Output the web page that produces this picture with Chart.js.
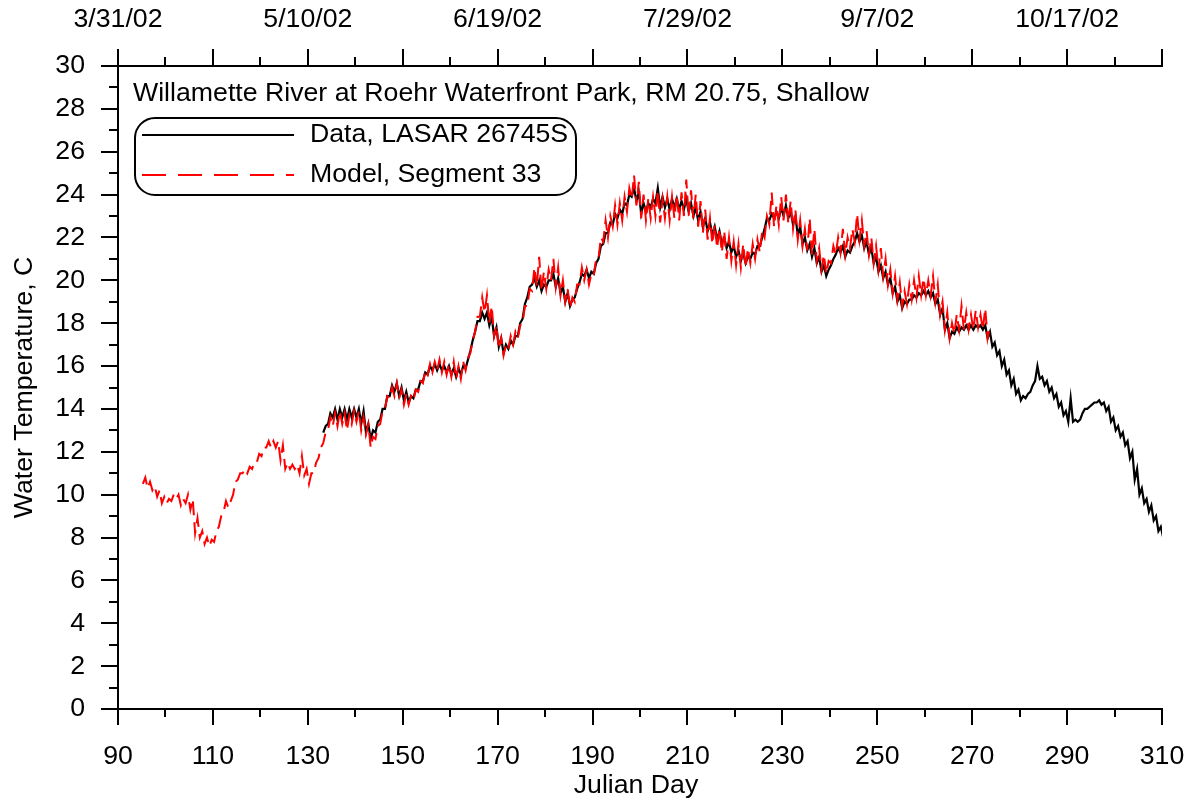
<!DOCTYPE html>
<html><head><meta charset="utf-8">
<script src="https://cdn.jsdelivr.net/npm/chart.js@4.4.1/dist/chart.umd.min.js"></script>
<style>html,body{margin:0;padding:0;background:#fff}#wrap{width:1191px;height:804px}</style>
</head><body><div id="wrap"><canvas id="c" width="1191" height="804"></canvas></div>
<script>
const FONT = '"Liberation Sans", Arial, sans-serif';
const FSIZE = 26.7;
const chartTitle = 'Willamette River at Roehr Waterfront Park, RM 20.75, Shallow';
const xTitle = 'Julian Day';
const yTitle = 'Water Temperature, C';
const dataName = 'Data, LASAR 26745S';
const modelName = 'Model, Segment 33';

const xTicks = [90,110,130,150,170,190,210,230,250,270,290,310];
const xMinor = [100,120,140,160,180,200,220,240,260,280,300];
const topTicks = [90,130,170,210,250,290];
const topLabels = ['3/31/02','5/10/02','6/19/02','7/29/02','9/7/02','10/17/02'];
const yTicks = [0,2,4,6,8,10,12,14,16,18,20,22,24,26,28,30];
const yMinor = [1,3,5,7,9,11,13,15,17,19,21,23,25,27,29];

// Model, Segment 33: daily low / high, first day 95
const modelStartDay = 95;
const modelLow = [
10.5,10.3,10.2,9.9,9.6,9.6,9.7,9.8,9.5,9.6,
9.3,8.2,8.0,7.7,7.6,7.8,8.5,9.2,9.4,10.0,
10.7,11.0,11.0,11.2,11.5,11.8,12.2,12.2,12.2,11.6,
11.2,11.2,11.2,11.0,10.9,10.5,11.0,11.7,12.4,13.0,
13.2,13.2,13.3,13.0,13.3,13.4,13.0,12.8,12.2,12.6,
13.3,14.0,14.5,14.6,14.5,14.2,14.2,14.4,14.8,15.2,
15.6,15.7,15.8,15.7,15.6,15.5,15.4,15.4,15.8,16.6,
17.6,18.3,18.5,18.0,17.4,16.8,16.5,16.8,17.0,17.3,
18.0,18.8,19.5,19.7,19.5,19.6,20.0,19.7,19.3,19.0,
18.7,19.0,19.8,20.0,19.8,20.2,21.0,21.8,22.0,22.5,
22.6,22.8,23.2,23.8,23.5,22.9,22.8,22.9,23.0,22.7,
22.9,22.8,22.9,22.8,23.0,23.0,22.9,22.5,22.2,21.9,
21.7,21.5,21.3,21.0,20.9,20.7,20.6,20.6,20.8,21.0,
21.3,22.0,22.6,22.5,22.6,22.8,22.7,22.4,21.9,21.6,
21.4,21.2,20.9,20.5,20.3,20.8,21.2,21.3,21.2,21.5,
21.8,21.9,21.6,21.2,20.8,20.5,20.2,19.8,19.4,19.1,
18.8,18.9,19.1,19.2,19.3,19.3,19.3,19.0,18.4,17.7,
17.3,17.5,17.7,17.7,17.7,17.7,17.8,17.7,17.3];
const modelHigh = [
10.8,10.6,10.4,10.2,9.9,9.8,10.0,10.0,9.8,10.0,
9.8,8.9,8.3,8.0,7.9,8.3,9.0,9.7,9.7,10.6,
11.0,11.2,11.3,11.5,11.9,12.2,12.5,12.5,12.5,12.3,
11.5,11.4,11.4,11.8,11.2,11.0,11.5,12.2,12.9,13.6,
13.8,13.9,13.8,13.7,13.9,13.9,13.6,13.3,12.7,13.2,
13.9,14.6,15.0,15.2,14.9,14.7,14.6,14.9,15.3,15.8,
16.1,16.2,16.3,16.2,16.1,16.2,16.0,16.2,16.4,17.2,
18.3,19.2,19.3,18.8,17.9,17.3,17.0,17.4,17.6,17.9,
18.8,19.6,20.6,21.1,20.4,20.5,21.0,20.6,20.0,19.6,
19.2,19.8,20.6,20.5,20.3,21.0,22.0,22.8,23.0,23.5,
23.6,23.9,24.3,24.9,24.6,24.0,23.8,23.9,24.2,23.8,
23.9,23.9,24.0,24.1,24.7,24.2,24.0,23.7,23.3,22.9,
22.6,22.4,22.3,22.0,21.8,21.7,21.7,21.5,21.7,21.9,
22.3,23.0,24.1,23.5,23.9,24.0,23.7,23.3,22.8,22.4,
22.9,22.4,21.5,21.2,20.9,21.6,22.0,22.4,22.0,22.4,
23.1,22.8,22.3,22.0,21.6,21.5,21.0,20.5,20.2,19.9,
19.5,19.8,20.0,20.2,20.1,20.0,20.2,19.8,19.0,18.5,
18.0,18.4,18.8,18.5,18.4,18.6,18.4,18.7,17.9];

// Data, LASAR 26745S: daily low / high, first day 133
const dataStartDay = 133;
const dataLow = [
12.9,13.3,13.6,13.5,13.6,13.5,13.6,13.6,13.3,12.9,
12.6,12.9,13.5,14.0,14.6,14.8,14.6,14.4,14.3,14.5,
14.9,15.3,15.6,15.8,15.8,15.8,15.7,15.6,15.5,15.6,
15.9,16.7,17.6,18.1,18.2,17.9,17.4,16.9,16.6,16.8,
17.0,17.4,18.2,19.2,19.8,19.7,19.5,19.7,20.0,19.7,
19.4,19.0,18.8,19.2,19.9,20.2,20.1,20.3,21.0,21.7,
22.2,22.6,22.9,23.1,23.5,23.9,23.7,23.1,23.2,23.4,
23.6,23.4,23.4,23.3,23.4,23.3,23.3,23.2,23.0,22.8,
22.5,22.3,22.1,21.9,21.7,21.5,21.3,21.1,20.9,20.8,
21.0,21.2,21.6,22.4,22.8,22.9,22.9,23.0,22.9,22.6,
22.1,21.7,21.4,21.1,20.8,20.4,20.2,20.7,21.2,21.3,
21.1,21.3,21.8,21.8,21.5,21.2,20.8,20.4,20.1,19.8,
19.4,19.0,18.7,18.9,19.1,19.2,19.3,19.3,19.2,18.9,
18.4,17.7,17.3,17.5,17.6,17.7,17.7,17.7,17.8,17.7,
17.3,16.9,16.5,16.0,15.6,15.1,14.7,14.4,14.5,14.8,
15.3,15.4,15.1,14.8,14.5,14.1,13.7,13.4,13.4,13.4,
13.8,14.0,14.2,14.3,14.2,13.9,13.4,13.0,12.7,12.3,
11.7,10.7,10.0,9.6,9.2,8.8,8.3,8.0];
const dataHigh = [
13.2,13.8,14.0,14.0,14.0,14.0,14.0,14.0,13.9,13.3,
13.0,13.4,14.0,14.6,15.1,15.2,15.0,14.8,14.6,14.9,
15.3,15.7,16.0,16.1,16.1,16.0,16.0,15.9,15.9,16.0,
16.3,17.2,18.1,18.5,18.5,18.3,17.8,17.3,17.0,17.2,
17.4,18.0,18.9,19.7,20.1,20.0,19.8,20.0,20.3,20.1,
19.7,19.4,19.1,19.6,20.3,20.5,20.4,20.8,21.6,22.2,
22.7,23.1,23.3,23.6,24.0,24.3,24.1,23.6,23.6,23.8,
24.3,23.9,23.8,23.8,23.8,23.7,23.8,23.6,23.4,23.2,
22.9,22.7,22.5,22.3,22.0,21.8,21.6,21.4,21.3,21.1,
21.3,21.6,22.0,22.9,23.1,23.2,23.4,23.5,23.2,23.0,
22.5,22.0,21.7,21.5,21.1,20.7,20.5,21.0,21.5,21.6,
21.4,21.6,22.2,22.1,21.8,21.5,21.1,20.7,20.4,20.1,
19.7,19.3,19.0,19.1,19.3,19.4,19.5,19.5,19.4,19.1,
18.7,18.0,17.6,17.8,17.8,17.9,17.9,17.9,17.9,17.9,
17.6,17.1,16.7,16.3,15.8,15.4,14.9,14.6,14.7,15.1,
16.0,15.5,15.3,15.0,14.7,14.3,13.9,14.5,13.5,13.5,
14.0,14.1,14.3,14.4,14.3,14.1,13.6,13.2,12.9,12.5,
12.0,11.2,10.3,9.8,9.5,9.0,8.5,8.1];

function buildSeries(start, lows, highs) {
  const pts = [];
  for (let i = 0; i < lows.length; i++) {
    pts.push({x: start + i + 0.25, y: lows[i]});
    pts.push({x: start + i + 0.75, y: highs[i]});
  }
  return pts;
}

const decorPlugin = {
  id: 'decor',
  afterDraw(chart) {
    const ctx = chart.ctx;
    const xs = chart.scales.x, ys = chart.scales.y;
    const {left, right, top, bottom} = chart.chartArea;
    ctx.save();
    ctx.strokeStyle = '#000';
    ctx.lineWidth = 2;
    ctx.beginPath();
    xTicks.forEach(v => { const p = Math.round(xs.getPixelForValue(v)); ctx.moveTo(p, bottom); ctx.lineTo(p, bottom + 16); ctx.moveTo(p, top); ctx.lineTo(p, top - 17); });
    xMinor.forEach(v => { const p = Math.round(xs.getPixelForValue(v)); ctx.moveTo(p, bottom); ctx.lineTo(p, bottom + 8); ctx.moveTo(p, top); ctx.lineTo(p, top - 9); });
    yTicks.forEach(v => { const p = Math.round(ys.getPixelForValue(v)); ctx.moveTo(left, p); ctx.lineTo(left - 17, p); });
    yMinor.forEach(v => { const p = Math.round(ys.getPixelForValue(v)); ctx.moveTo(left, p); ctx.lineTo(left - 9, p); });
    ctx.stroke();

    ctx.fillStyle = '#000';
    ctx.font = FSIZE + 'px ' + FONT;
    ctx.textBaseline = 'middle';
    ctx.textAlign = 'left';
    ctx.fillText(chartTitle, 133, 94);

    // legend
    ctx.beginPath();
    ctx.roundRect(135, 118, 441, 77, 20);
    ctx.stroke();
    ctx.beginPath();
    ctx.moveTo(142, 135); ctx.lineTo(294, 135);
    ctx.stroke();
    ctx.strokeStyle = '#ff0000';
    ctx.setLineDash([24, 12]);
    ctx.beginPath();
    ctx.moveTo(142, 175); ctx.lineTo(294, 175);
    ctx.stroke();
    ctx.setLineDash([]);
    ctx.fillText(dataName, 310, 135);
    ctx.fillText(modelName, 310, 175);

    // axis titles
    ctx.textAlign = 'center';
    ctx.fillText(xTitle, 636, 786);
    ctx.translate(25, (top + bottom) / 2);
    ctx.rotate(-Math.PI / 2);
    ctx.fillText(yTitle, 0, 0);
    ctx.restore();
  }
};

new Chart(document.getElementById('c'), {
  type: 'line',
  data: {
    datasets: [
      { label: modelName, data: buildSeries(modelStartDay, modelLow, modelHigh), borderColor: '#ff0000', borderWidth: 2, borderDash: [14, 7], pointRadius: 0, tension: 0, fill: false },
      { label: dataName, data: buildSeries(dataStartDay, dataLow, dataHigh), borderColor: '#000000', borderWidth: 2.2, pointRadius: 0, tension: 0, fill: false }
    ]
  },
  options: {
    responsive: false,
    devicePixelRatio: 1,
    animation: false,
    layout: { padding: { left: 0, right: 29, top: 0, bottom: 0 } },
    plugins: { legend: { display: false }, tooltip: { enabled: false }, title: { display: false } },
    scales: {
      x: {
        type: 'linear', position: 'bottom', min: 90, max: 310,
        afterBuildTicks: s => { s.ticks = xTicks.map(v => ({value: v})); },
        afterFit: s => { s.height = 95; s.paddingLeft = 0; s.paddingRight = 0; },
        grid: { display: false, drawTicks: false },
        border: { display: true, color: '#000', width: 2 },
        ticks: { color: '#000', font: { family: FONT, size: FSIZE }, padding: 32, maxRotation: 0, autoSkip: false }
      },
      x2: {
        type: 'linear', position: 'top', min: 90, max: 310,
        afterBuildTicks: s => { s.ticks = topTicks.map(v => ({value: v})); },
        afterFit: s => { s.height = 66; s.paddingLeft = 0; s.paddingRight = 0; },
        grid: { display: false, drawTicks: false },
        border: { display: true, color: '#000', width: 2 },
        ticks: { color: '#000', font: { family: FONT, size: FSIZE }, padding: 30, maxRotation: 0, autoSkip: false,
          callback: (v) => { const i = topTicks.indexOf(v); return i >= 0 ? topLabels[i] : ''; } }
      },
      y: {
        type: 'linear', position: 'left', min: 0, max: 30,
        afterBuildTicks: s => { s.ticks = yTicks.map(v => ({value: v})); },
        afterFit: s => { s.width = 118; s.paddingTop = 0; s.paddingBottom = 0; },
        grid: { display: false, drawTicks: false },
        border: { display: true, color: '#000', width: 2 },
        ticks: { color: '#000', font: { family: FONT, size: FSIZE }, padding: 33, autoSkip: false }
      }
    }
  },
  plugins: [decorPlugin]
});
</script></body></html>
